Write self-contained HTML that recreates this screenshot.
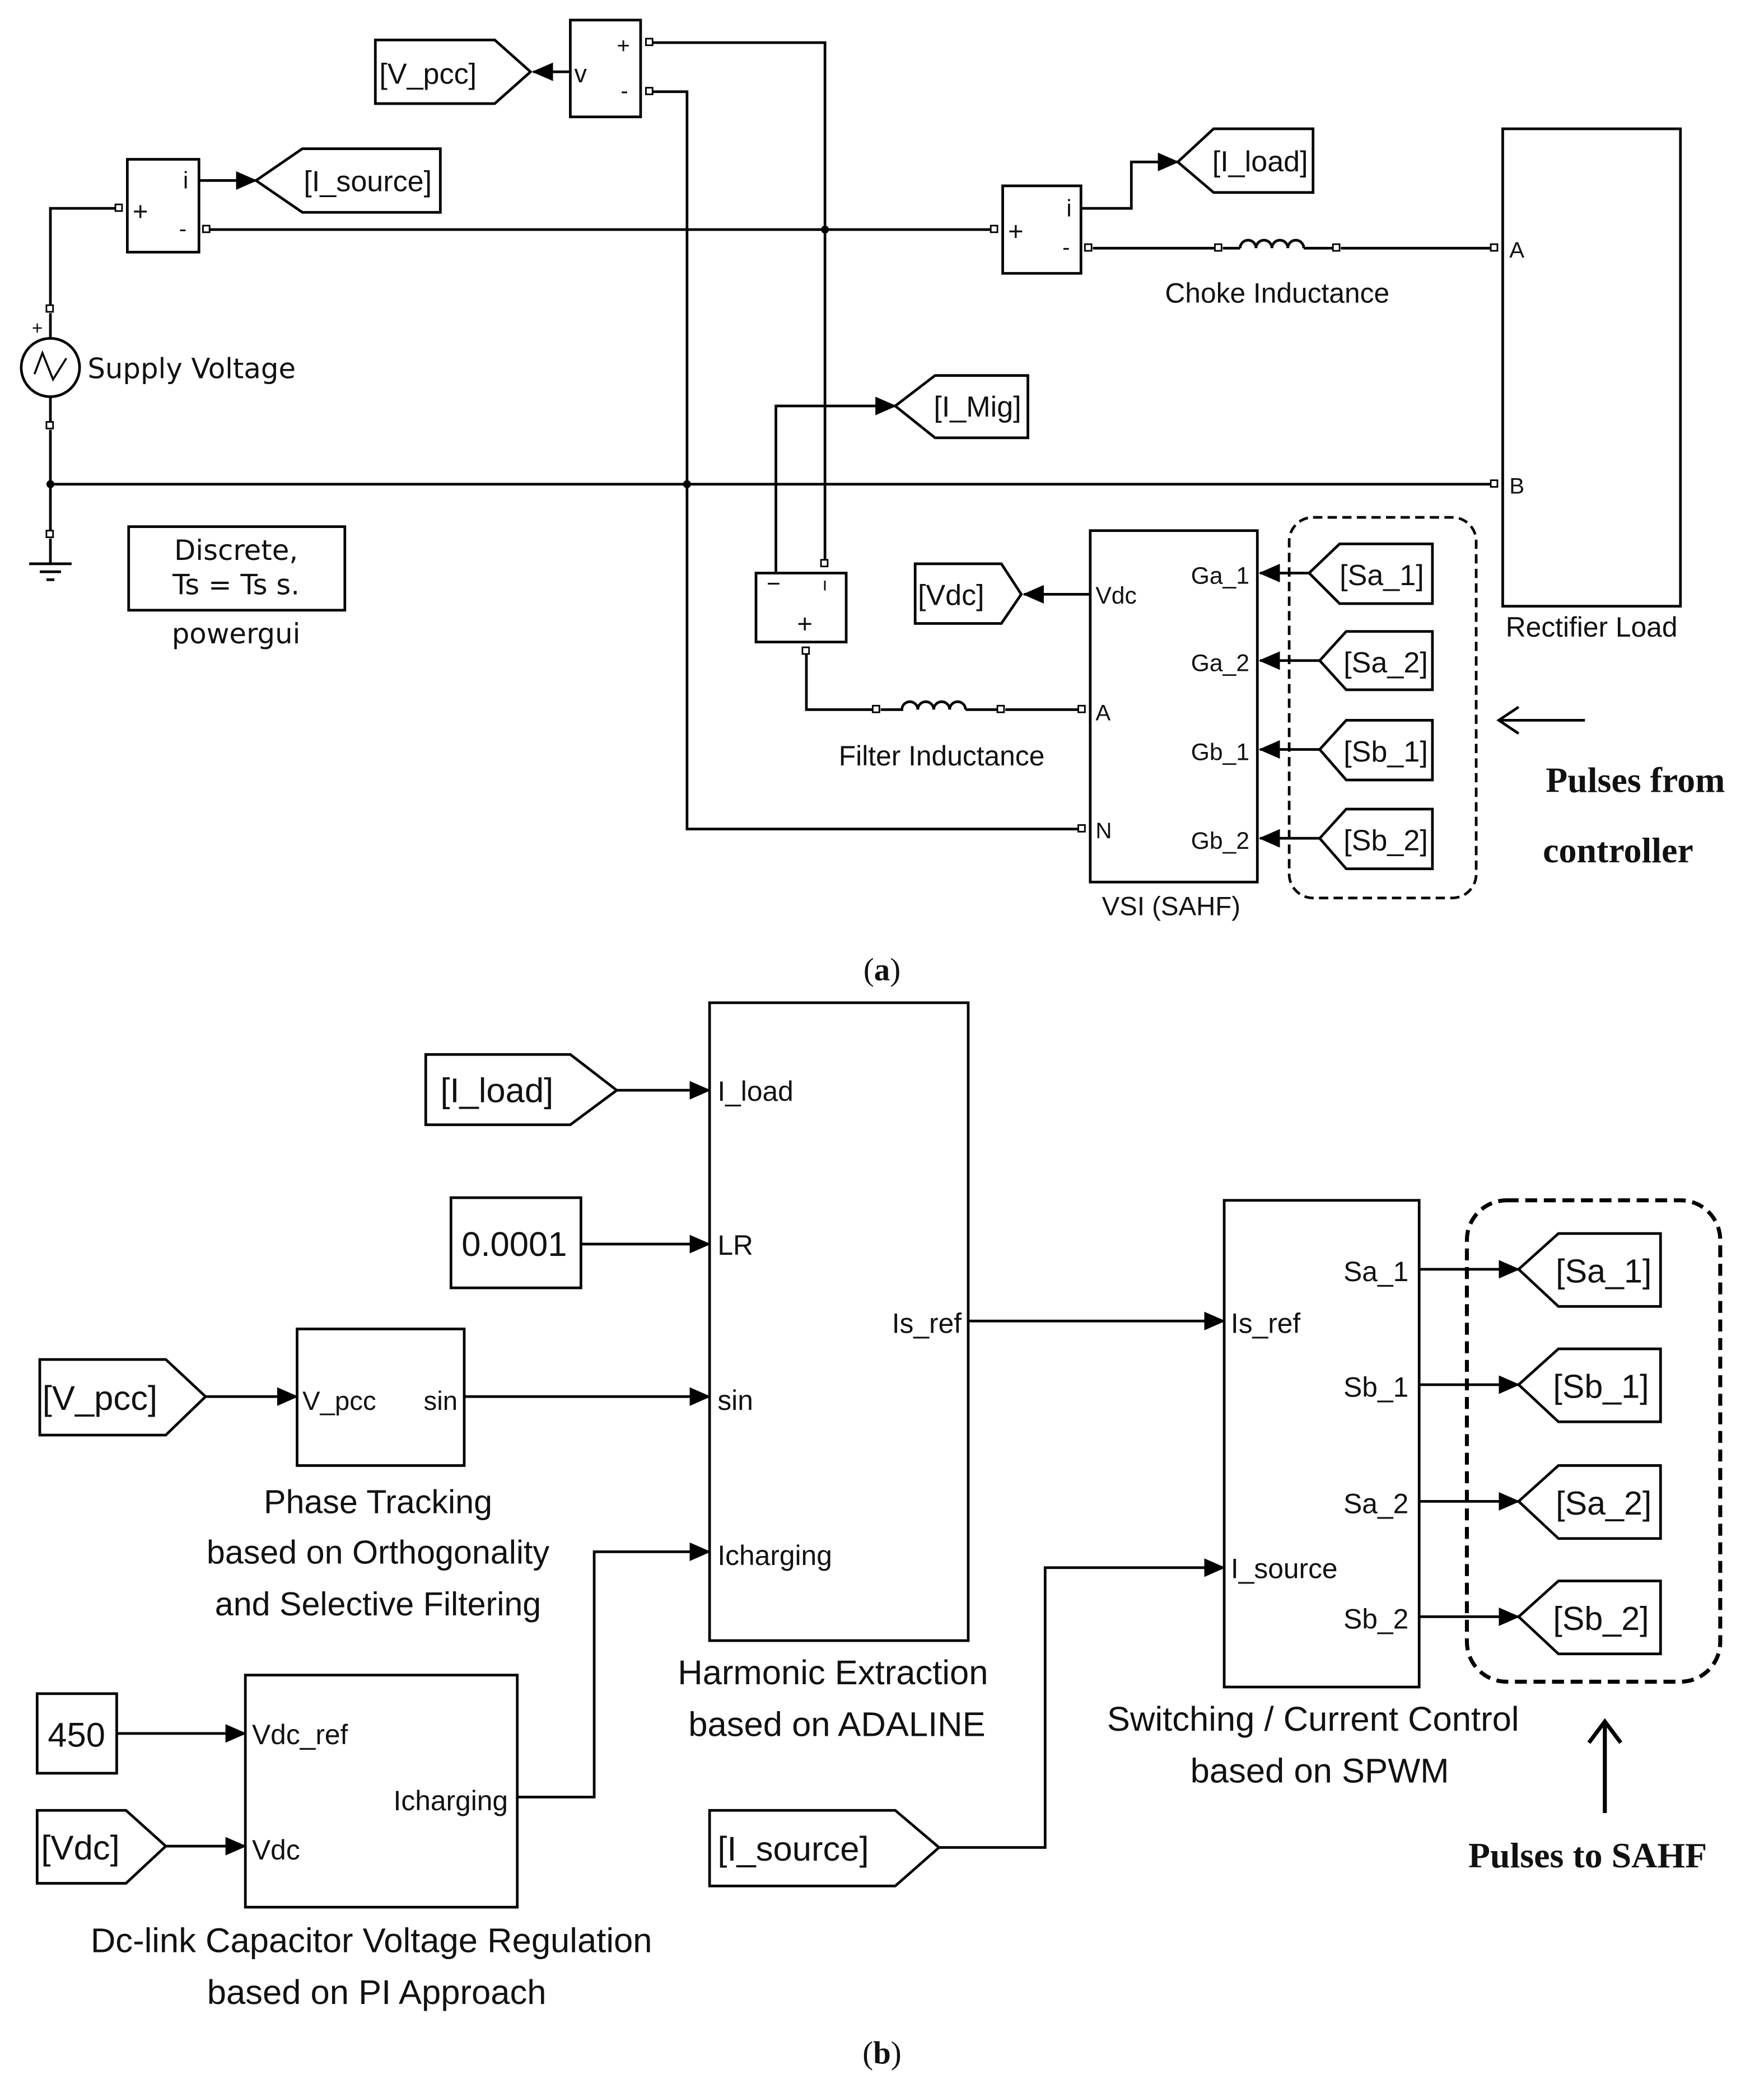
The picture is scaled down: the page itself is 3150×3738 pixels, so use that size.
<!DOCTYPE html>
<html><head><meta charset="utf-8"><style>
html,body{margin:0;padding:0;background:#fff;}
svg{display:block;}
text{font-family:"Liberation Sans",Arial,sans-serif;fill:#111;}
.v{font-family:"DejaVu Sans",sans-serif;}
.s{font-family:"Liberation Serif",serif;font-weight:bold;}
</style></head><body>
<svg width="3150" height="3738" viewBox="0 0 1330 1578" xmlns="http://www.w3.org/2000/svg">
<defs>
<marker id="ar2" markerWidth="16" markerHeight="14" refX="15" refY="7" orient="auto" markerUnits="userSpaceOnUse"><path d="M0,0 L16,7 L0,14 z" fill="#000"/></marker>
</defs>
<g fill="none" stroke="#000" stroke-width="2">
<polygon points="283,30 373,30 400,54 373,78 283,78"/>
<line x1="430" y1="54" x2="402" y2="54" marker-end="url(#ar2)"/>
<rect x="430" y="15" width="53" height="73"/>
<polyline points="490,32 622,32 622,425"/>
<polyline points="490,69 518,69 518,625 815,625"/>
<rect x="96" y="120" width="54" height="70"/>
<polyline points="90,157 38,157 38,230"/>
<line x1="156" y1="173" x2="750" y2="173"/>
<line x1="150" y1="136" x2="193" y2="136" marker-end="url(#ar2)"/>
<polygon points="193,136 228,112 332,112 332,160 228,160"/>
<circle cx="38" cy="277" r="22"/>
<path d="M26,282 L32,266 L40,286 L50,270" stroke-width="1.5"/>
<line x1="38" y1="236" x2="38" y2="255"/>
<line x1="38" y1="299" x2="38" y2="318"/>
<line x1="38" y1="324" x2="38" y2="400"/>
<line x1="38" y1="365" x2="1124" y2="365"/>
<line x1="38" y1="406" x2="38" y2="425"/>
<line x1="22" y1="425" x2="54" y2="425"/>
<line x1="30" y1="431" x2="46" y2="431"/>
<line x1="35" y1="437" x2="41" y2="437"/>
<rect x="97" y="397" width="163" height="63"/>
<rect x="756" y="140" width="59" height="66"/>
<polyline points="815,157 853,157 853,122 888,122" marker-end="url(#ar2)"/>
<polygon points="888,122 915,97 990,97 990,145 915,145"/>
<line x1="824" y1="187" x2="916" y2="187"/>
<path d="M922,187 L935,187 M935,187 a6,6 0 0 1 12,0 a6,6 0 0 1 12,0 a6,6 0 0 1 12,0 a6,6 0 0 1 12,0 M983,187 L1005,187"/>
<line x1="1011" y1="187" x2="1124" y2="187"/>
<rect x="1133" y="97" width="134" height="360"/>
<polyline points="585,432 585,306 675,306" marker-end="url(#ar2)"/>
<polygon points="675,306 705,283 775,283 775,330 705,330"/>
<rect x="570" y="432" width="68" height="52"/>
<polyline points="608,491 608,535 658,535"/>
<path d="M664,535 L680,535 a6,6 0 0 1 12,0 a6,6 0 0 1 12,0 a6,6 0 0 1 12,0 a6,6 0 0 1 12,0 M728,535 L752,535"/>
<line x1="758" y1="535" x2="815" y2="535"/>
<rect x="822" y="400" width="126" height="265"/>
<line x1="822" y1="448" x2="772" y2="448" marker-end="url(#ar2)"/>
<polygon points="690,425 755,425 770,448 755,470 690,470"/>
<line x1="987" y1="432" x2="950" y2="432" marker-end="url(#ar2)"/>
<polygon points="987,432 1010,410 1080,410 1080,455 1010,455"/>
<line x1="995" y1="498" x2="950" y2="498" marker-end="url(#ar2)"/>
<polygon points="995,498 1015,476 1080,476 1080,520 1015,520"/>
<line x1="995" y1="565" x2="950" y2="565" marker-end="url(#ar2)"/>
<polygon points="995,565 1015,543 1080,543 1080,588 1015,588"/>
<line x1="995" y1="632" x2="950" y2="632" marker-end="url(#ar2)"/>
<polygon points="995,632 1015,610 1080,610 1080,655 1015,655"/>
<rect x="972" y="390" width="141" height="287" rx="18" stroke-dasharray="7,4"/>
<line x1="1195" y1="543" x2="1130" y2="543"/>
<polyline points="1145,533 1130,543 1145,553"/>
</g>
<g fill="#fff" stroke="#000" stroke-width="1.2">
<rect x="487" y="29" width="5" height="5"/><rect x="487" y="66" width="5" height="5"/>
<rect x="87" y="154" width="5" height="5"/><rect x="153" y="170" width="5" height="5"/>
<rect x="35" y="230" width="5" height="5"/><rect x="35" y="318" width="5" height="5"/>
<rect x="35" y="400" width="5" height="5"/>
<rect x="747" y="170" width="5" height="5"/><rect x="818" y="184" width="5" height="5"/>
<rect x="916" y="184" width="5" height="5"/><rect x="1005" y="184" width="5" height="5"/>
<rect x="1124" y="184" width="5" height="5"/><rect x="1124" y="362" width="5" height="5"/>
<rect x="619" y="422" width="5" height="5"/><rect x="605" y="488" width="5" height="5"/>
<rect x="658" y="532" width="5" height="5"/><rect x="752" y="532" width="5" height="5"/>
<rect x="813" y="532" width="5" height="5"/><rect x="813" y="622" width="5" height="5"/>
</g>
<g fill="#000"><circle cx="38" cy="365" r="3"/><circle cx="518" cy="365" r="3"/><circle cx="622" cy="173" r="3"/></g>
<text x="286" y="63" font-size="22">[V_pcc]</text>
<text x="433" y="62" font-size="19">v</text>
<text x="465" y="40" font-size="17">+</text>
<text x="468" y="74" font-size="17">-</text>
<text x="138" y="142" font-size="18">i</text>
<text x="100" y="166" font-size="20">+</text>
<text x="135" y="178" font-size="17">-</text>
<text x="229" y="144" font-size="22">[I_source]</text>
<text x="24" y="252" font-size="14">+</text>
<text class="v" x="66" y="285" font-size="21">Supply Voltage</text>
<text class="v" x="178" y="422" font-size="21" text-anchor="middle">Discrete,</text>
<text class="v" x="178" y="448" font-size="21" text-anchor="middle">Ts = Ts s.</text>
<text class="v" x="178" y="485" font-size="21" text-anchor="middle">powergui</text>
<text x="760" y="181" font-size="20">+</text>
<text x="804" y="163" font-size="18">i</text>
<text x="801" y="192" font-size="17">-</text>
<text x="914" y="129" font-size="22">[I_load]</text>
<text x="963" y="228" font-size="21" text-anchor="middle">Choke Inductance</text>
<text x="1138" y="194" font-size="17">A</text>
<text x="1138" y="372" font-size="17">B</text>
<text x="1200" y="480" font-size="21" text-anchor="middle">Rectifier Load</text>
<text x="704" y="314" font-size="22">[I_Mig]</text>
<text x="578" y="446" font-size="18">−</text>
<text x="620" y="445" font-size="14">ı</text>
<text x="601" y="477" font-size="20">+</text>
<text x="710" y="577" font-size="21" text-anchor="middle">Filter Inductance</text>
<text x="692" y="456" font-size="22">[Vdc]</text>
<text x="826" y="455" font-size="18">Vdc</text>
<text x="826" y="543" font-size="17">A</text>
<text x="826" y="632" font-size="17">N</text>
<text x="942" y="440" font-size="18" text-anchor="end">Ga_1</text>
<text x="942" y="506" font-size="18" text-anchor="end">Ga_2</text>
<text x="942" y="573" font-size="18" text-anchor="end">Gb_1</text>
<text x="942" y="640" font-size="18" text-anchor="end">Gb_2</text>
<text x="883" y="690" font-size="20" text-anchor="middle">VSI (SAHF)</text>
<text x="1010" y="441" font-size="22">[Sa_1]</text>
<text x="1013" y="507" font-size="22">[Sa_2]</text>
<text x="1013" y="574" font-size="22">[Sb_1]</text>
<text x="1013" y="641" font-size="22">[Sb_2]</text>
<text class="s" x="1233" y="597" font-size="27" text-anchor="middle">Pulses from</text>
<text class="s" x="1220" y="650" font-size="27" text-anchor="middle">controller</text>
<text x="665" y="739" font-size="24" text-anchor="middle" style="font-family:'Liberation Serif',serif">(<tspan font-weight="bold">a</tspan>)</text>

<g fill="none" stroke="#000" stroke-width="2">
<polygon points="321,795 430,795 465,822 430,848 321,848"/>
<line x1="465" y1="822" x2="535" y2="822" marker-end="url(#ar2)"/>
<rect x="535" y="756" width="195" height="481"/>
<rect x="340" y="903" width="98" height="68"/>
<line x1="438" y1="938" x2="535" y2="938" marker-end="url(#ar2)"/>
<polygon points="30,1025 125,1025 155,1053 125,1082 30,1082"/>
<line x1="155" y1="1053" x2="224" y2="1053" marker-end="url(#ar2)"/>
<rect x="224" y="1002" width="126" height="103"/>
<line x1="350" y1="1053" x2="535" y2="1053" marker-end="url(#ar2)"/>
<rect x="28" y="1277" width="60" height="60"/>
<line x1="88" y1="1307" x2="185" y2="1307" marker-end="url(#ar2)"/>
<polygon points="28,1365 95,1365 125,1392 95,1420 28,1420"/>
<line x1="125" y1="1392" x2="185" y2="1392" marker-end="url(#ar2)"/>
<rect x="185" y="1263" width="205" height="175"/>
<polyline points="390,1355 448,1355 448,1170 535,1170" marker-end="url(#ar2)"/>
<line x1="730" y1="996" x2="923" y2="996" marker-end="url(#ar2)"/>
<rect x="923" y="905" width="147" height="367"/>
<line x1="1070" y1="957" x2="1145" y2="957" marker-end="url(#ar2)"/>
<polygon points="1145,957 1175,930 1252,930 1252,985 1175,985"/>
<line x1="1070" y1="1044" x2="1145" y2="1044" marker-end="url(#ar2)"/>
<polygon points="1145,1044 1175,1017 1252,1017 1252,1072 1175,1072"/>
<line x1="1070" y1="1132" x2="1145" y2="1132" marker-end="url(#ar2)"/>
<polygon points="1145,1132 1175,1105 1252,1105 1252,1160 1175,1160"/>
<line x1="1070" y1="1219" x2="1145" y2="1219" marker-end="url(#ar2)"/>
<polygon points="1145,1219 1175,1192 1252,1192 1252,1247 1175,1247"/>
<rect x="1106" y="905" width="191" height="363" rx="30" stroke-dasharray="9,5" stroke-width="3"/>
<polygon points="535,1365 675,1365 708,1393 675,1422 535,1422"/>
<polyline points="708,1393 788,1393 788,1182 923,1182" marker-end="url(#ar2)"/>
<line x1="1210" y1="1367" x2="1210" y2="1300" stroke-width="3"/>
<polyline points="1198,1314 1210,1298 1222,1314" stroke-width="3"/>
</g>
<text x="332" y="831" font-size="26">[I_load]</text>
<text x="541" y="830" font-size="21">I_load</text>
<text x="348" y="947" font-size="26">0.0001</text>
<text x="541" y="946" font-size="21">LR</text>
<text x="32" y="1063" font-size="26">[V_pcc]</text>
<text x="228" y="1063" font-size="20">V_pcc</text>
<text x="345" y="1063" font-size="20" text-anchor="end">sin</text>
<text x="541" y="1063" font-size="21">sin</text>
<text x="541" y="1180" font-size="21">Icharging</text>
<text x="725" y="1005" font-size="21" text-anchor="end">Is_ref</text>
<text x="285" y="1141" font-size="25" text-anchor="middle">Phase Tracking</text>
<text x="285" y="1179" font-size="25" text-anchor="middle">based on Orthogonality</text>
<text x="285" y="1218" font-size="25" text-anchor="middle">and Selective Filtering</text>
<text x="628" y="1270" font-size="26" text-anchor="middle">Harmonic Extraction</text>
<text x="631" y="1309" font-size="26" text-anchor="middle">based on ADALINE</text>
<text x="36" y="1317" font-size="26">450</text>
<text x="31" y="1402" font-size="26">[Vdc]</text>
<text x="190" y="1315" font-size="21">Vdc_ref</text>
<text x="190" y="1402" font-size="21">Vdc</text>
<text x="383" y="1365" font-size="21" text-anchor="end">Icharging</text>
<text x="280" y="1472" font-size="26" text-anchor="middle">Dc-link Capacitor Voltage Regulation</text>
<text x="284" y="1511" font-size="26" text-anchor="middle">based on PI Approach</text>
<text x="928" y="1005" font-size="21">Is_ref</text>
<text x="928" y="1190" font-size="21">I_source</text>
<text x="1062" y="966" font-size="21" text-anchor="end">Sa_1</text>
<text x="1062" y="1053" font-size="21" text-anchor="end">Sb_1</text>
<text x="1062" y="1141" font-size="21" text-anchor="end">Sa_2</text>
<text x="1062" y="1228" font-size="21" text-anchor="end">Sb_2</text>
<text x="1173" y="967" font-size="25">[Sa_1]</text>
<text x="1171" y="1054" font-size="25">[Sb_1]</text>
<text x="1173" y="1142" font-size="25">[Sa_2]</text>
<text x="1171" y="1229" font-size="25">[Sb_2]</text>
<text x="541" y="1403" font-size="26">[I_source]</text>
<text x="990" y="1305" font-size="26" text-anchor="middle">Switching / Current Control</text>
<text x="995" y="1344" font-size="26" text-anchor="middle">based on SPWM</text>
<text class="s" x="1197" y="1408" font-size="27" text-anchor="middle">Pulses to SAHF</text>
<text x="665" y="1556" font-size="24" text-anchor="middle" style="font-family:'Liberation Serif',serif">(<tspan font-weight="bold">b</tspan>)</text>
</svg>
</body></html>
